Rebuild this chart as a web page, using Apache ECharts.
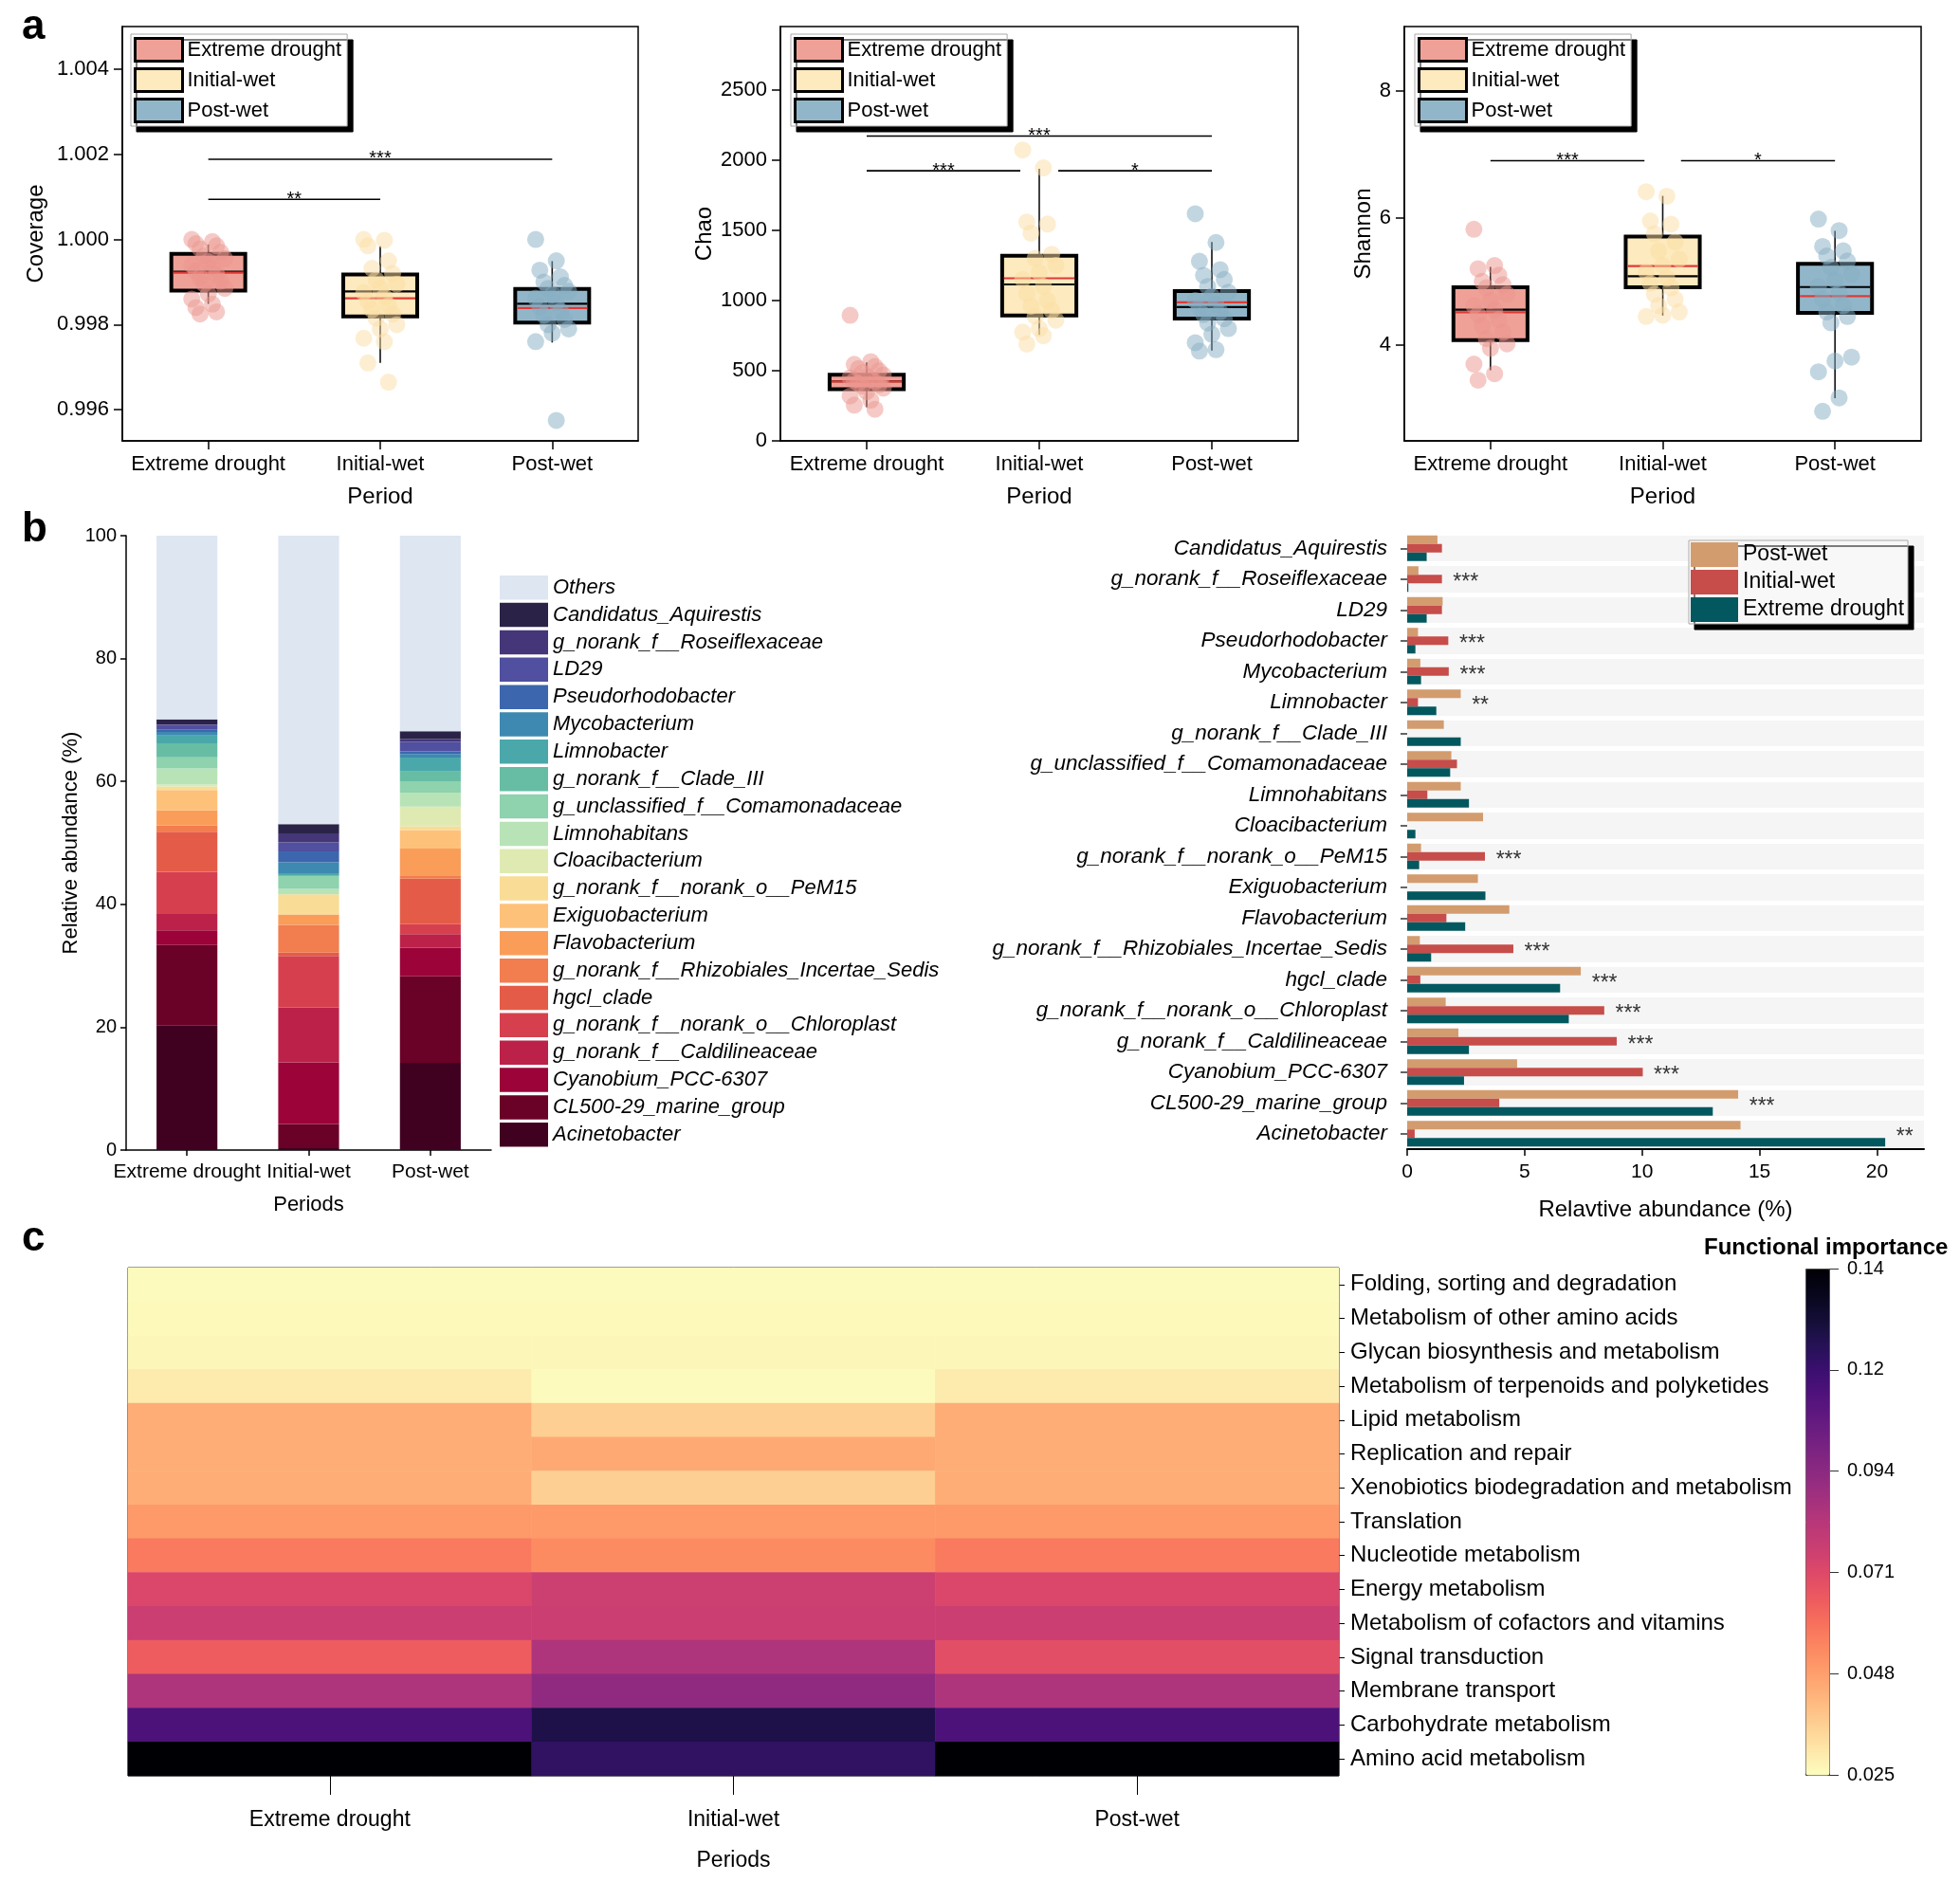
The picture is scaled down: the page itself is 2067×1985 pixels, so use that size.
<!DOCTYPE html>
<html>
<head>
<meta charset="utf-8">
<script src="https://cdn.jsdelivr.net/npm/echarts@6/dist/echarts.min.js"></script>
<style>html,body{margin:0;padding:0;background:#fff}#c{width:2067px;height:1985px}</style>
</head>
<body>
<div id="c"></div>
<script>
// ---------------- DATA ----------------
const periods = ['Extreme drought', 'Initial-wet', 'Post-wet'];

// Panel a: box statistics [min, Q1, median, Q3, max] and means, per period
const coverageStats = [[0.99849, 0.99880, 0.99924, 0.99966, 0.99988], [0.99710, 0.99819, 0.99878, 0.99918, 0.99984], [0.99758, 0.99805, 0.99849, 0.99884, 0.99949]];
const coverageMeans = [0.99922, 0.99862, 0.99839];
const coveragePoints = [
  [1.00000, 0.99995, 0.99990, 0.99985, 0.99978, 0.99970, 0.99962, 0.99955, 0.99948, 0.99940, 0.99932, 0.99925, 0.99918, 0.99910, 0.99902, 0.99895, 0.99885, 0.99872, 0.99860, 0.99848, 0.99840, 0.99830, 0.99825],
  [1.00000, 0.99998, 0.99985, 0.99950, 0.99932, 0.99920, 0.99905, 0.99895, 0.99885, 0.99875, 0.99865, 0.99855, 0.99845, 0.99835, 0.99825, 0.99815, 0.99800, 0.99790, 0.99768, 0.99760, 0.99710, 0.99665],
  [1.00000, 0.99950, 0.99928, 0.99912, 0.99900, 0.99892, 0.99885, 0.99878, 0.99870, 0.99862, 0.99852, 0.99842, 0.99832, 0.99822, 0.99812, 0.99800, 0.99790, 0.99780, 0.99760, 0.99575]
];
const coverageTicks = [0.996, 0.998, 1.000, 1.002, 1.004];
const coverageBrackets = [[0, 2, 1.001884, '***'], [0, 1, 1.000942, '**']];

const chaoStats = [[240, 369, 425, 472, 560], [755, 893, 1115, 1320, 1939], [643, 872, 953, 1068, 1418]];
const chaoMeans = [423, 1159, 988];
const chaoPoints = [
  [895, 565, 545, 530, 515, 500, 485, 470, 460, 450, 440, 430, 420, 410, 400, 390, 375, 350, 320, 290, 255, 225],
  [2073, 1946, 1560, 1545, 1480, 1330, 1300, 1250, 1200, 1150, 1100, 1050, 1000, 960, 930, 890, 860, 800, 775, 750, 690],
  [1619, 1414, 1280, 1220, 1180, 1150, 1100, 1060, 1030, 1000, 975, 950, 920, 900, 870, 840, 800, 760, 700, 650, 640]
];
const chaoTicks = [0, 500, 1000, 1500, 2000, 2500];
const chaoBrackets = [[0, 2, 2173, '***'], [0, 0.89, 1925, '***'], [1.11, 2, 1925, '*']];

const shannonStats = [[3.603, 4.077, 4.557, 4.907, 5.227], [4.464, 4.907, 5.082, 5.706, 6.345], [3.165, 4.505, 4.912, 5.278, 5.794]];
const shannonMeans = [4.515, 5.242, 4.768];
const shannonPoints = [
  [5.82, 5.25, 5.20, 5.10, 5.00, 4.95, 4.90, 4.80, 4.70, 4.62, 4.55, 4.48, 4.40, 4.30, 4.20, 4.10, 4.02, 3.95, 3.70, 3.55, 3.45],
  [6.41, 6.34, 5.95, 5.90, 5.75, 5.62, 5.48, 5.35, 5.25, 5.15, 5.05, 4.97, 4.90, 4.80, 4.72, 4.62, 4.52, 4.47, 4.45],
  [5.98, 5.80, 5.55, 5.48, 5.40, 5.32, 5.22, 5.12, 5.02, 4.92, 4.82, 4.72, 4.62, 4.52, 4.45, 4.35, 3.81, 3.75, 3.58, 3.17, 2.96]
];
const shannonTicks = [4, 6, 8];
const shannonBrackets = [[0, 0.894, 6.897, '***'], [1.106, 2, 6.897, '*']];

// Panel b: genera (top to bottom of the right chart) and mean relative abundance (%)
const genera = ['Candidatus_Aquirestis', 'g_norank_f__Roseiflexaceae', 'LD29', 'Pseudorhodobacter', 'Mycobacterium', 'Limnobacter', 'g_norank_f__Clade_III', 'g_unclassified_f__Comamonadaceae', 'Limnohabitans', 'Cloacibacterium', 'g_norank_f__norank_o__PeM15', 'Exiguobacterium', 'Flavobacterium', 'g_norank_f__Rhizobiales_Incertae_Sedis', 'hgcl_clade', 'g_norank_f__norank_o__Chloroplast', 'g_norank_f__Caldilineaceae', 'Cyanobium_PCC-6307', 'CL500-29_marine_group', 'Acinetobacter'];
const pwAbund = [1.29, 0.48, 1.51, 0.46, 0.56, 2.28, 1.56, 1.88, 2.28, 3.23, 0.59, 3.01, 4.35, 0.54, 7.39, 1.64, 2.18, 4.68, 14.09, 14.19];
const iwAbund = [1.48, 1.48, 1.48, 1.75, 1.77, 0.46, 0, 2.12, 0.86, 0, 3.31, 0, 1.67, 4.52, 0.56, 8.39, 8.92, 10.03, 3.92, 0.32];
const edAbund = [0.83, 0.05, 0.83, 0.35, 0.59, 1.24, 2.28, 1.83, 2.63, 0.35, 0.51, 3.33, 2.47, 1.02, 6.51, 6.88, 2.63, 2.42, 13.01, 20.35];
const othersAbund = [29.89, 46.96, 31.81]; // ED, IW, PW
const sigLabels = ['', '***', '', '***', '***', '**', '', '', '', '', '***', '', '', '***', '***', '***', '***', '***', '***', '**'];

// Panel c: functional categories (top to bottom) and importance per period [ED, IW, PW]
const functions = ['Folding, sorting and degradation', 'Metabolism of other amino acids', 'Glycan biosynthesis and metabolism', 'Metabolism of terpenoids and polyketides', 'Lipid metabolism', 'Replication and repair', 'Xenobiotics biodegradation and metabolism', 'Translation', 'Nucleotide metabolism', 'Energy metabolism', 'Metabolism of cofactors and vitamins', 'Signal transduction', 'Membrane transport', 'Carbohydrate metabolism', 'Amino acid metabolism'];
const heatValues = [
  [0.0255, 0.0255, 0.0255],
  [0.0260, 0.0260, 0.0260],
  [0.0265, 0.0265, 0.0265],
  [0.0296, 0.0255, 0.0296],
  [0.0446, 0.0365, 0.0446],
  [0.0446, 0.0457, 0.0446],
  [0.0446, 0.0365, 0.0446],
  [0.0492, 0.0492, 0.0492],
  [0.0572, 0.0532, 0.0572],
  [0.0722, 0.0762, 0.0722],
  [0.0768, 0.0768, 0.0768],
  [0.0647, 0.0848, 0.0693],
  [0.0848, 0.0929, 0.0848],
  [0.1124, 0.1250, 0.1124],
  [0.1400, 0.1199, 0.1400]
];
const cbTicks = [0.025, 0.048, 0.071, 0.094, 0.117, 0.14];
const cbTickLabels = ['0.025', '0.048', '0.071', '0.094', '0.12', '0.14'];

// ---------------- STYLE ----------------
const FONT = "'Liberation Sans', Arial, Helvetica, sans-serif";
const periodColors = ['#EFA198', '#FDEABF', '#92B6C9'];
const pointColors = ['#EC958D', '#FBDDA3', '#86AEC4'];
const generaColors = ['#2A2347', '#45367A', '#504FA0', '#3C67AE', '#3D89B1', '#4BA8AA', '#66BDA4', '#8ED2AE', '#B8E3B6', '#DFEAB2', '#F9DC96', '#FEC17A', '#FA9D59', '#F27D4E', '#E45C47', '#D6404E', '#BC2149', '#9B0339', '#6A0126', '#400020'];
const othersColor = '#DEE6F2';
const diffColors = { 'Post-wet': '#D39C6E', 'Initial-wet': '#C64D4A', 'Extreme drought': '#03585F' };
const magmaRev = ['#FCFDBF', '#FDE7A9', '#FECF92', '#FEB77E', '#FE9F6D', '#FC8961', '#F7705C', '#ED5A5F', '#DE4968', '#CA3E72', '#B73779', '#A1307E', '#8C2981', '#782281', '#641A80', '#51127C', '#3B0F70', '#251255', '#140E36', '#07061C', '#000004'];

const alphaPanels = [
  { name: 'Coverage', stats: coverageStats, means: coverageMeans, points: coveragePoints, ticks: coverageTicks, brackets: coverageBrackets, min: 0.99527, max: 1.005, fmt: v => v.toFixed(3), grid: { left: 129, top: 28, width: 544, height: 437 }, nameGap: 79, legendLeft: 138 },
  { name: 'Chao', stats: chaoStats, means: chaoMeans, points: chaoPoints, ticks: chaoTicks, brackets: chaoBrackets, min: 0, max: 2953, fmt: v => String(Math.round(v)), grid: { left: 823, top: 28, width: 546, height: 437 }, nameGap: 68, legendLeft: 834 },
  { name: 'Shannon', stats: shannonStats, means: shannonMeans, points: shannonPoints, ticks: shannonTicks, brackets: shannonBrackets, min: 2.495, max: 9.005, fmt: v => String(Math.round(v)), grid: { left: 1481, top: 28, width: 545, height: 437 }, nameGap: 31, legendLeft: 1492 }
];

const jitter = i => (((i * 5) % 9) - 4) * 0.024;

function boxRender(params, api) {
  const i = api.value(0);
  const w = api.size([1, 0])[0] * 0.43;
  const pMin = api.coord([i, api.value(1)]);
  const pQ1 = api.coord([i, api.value(2)]);
  const pMed = api.coord([i, api.value(3)]);
  const pQ3 = api.coord([i, api.value(4)]);
  const pMax = api.coord([i, api.value(5)]);
  const pMean = api.coord([i, api.value(6)]);
  const cx = pQ1[0];
  return {
    type: 'group', children: [
      { type: 'line', shape: { x1: cx, y1: pMin[1], x2: cx, y2: pMax[1] }, style: { stroke: '#111', lineWidth: 1.6 } },
      { type: 'rect', shape: { x: cx - w / 2, y: pQ3[1], width: w, height: pQ1[1] - pQ3[1] }, style: { fill: periodColors[i], stroke: '#000', lineWidth: 4 } },
      { type: 'line', shape: { x1: cx - w / 2 + 2, y1: pMed[1], x2: cx + w / 2 - 2, y2: pMed[1] }, style: { stroke: '#000', lineWidth: 2.2 } },
      { type: 'line', shape: { x1: cx - w / 2 + 2, y1: pMean[1], x2: cx + w / 2 - 2, y2: pMean[1] }, style: { stroke: '#E03A35', lineWidth: 2.2 } }
    ]
  };
}

function makeBracketRender(brackets) {
  return function (params, api) {
    const p1 = api.coord([api.value(0), api.value(2)]);
    const p2 = api.coord([api.value(1), api.value(2)]);
    return {
      type: 'group', children: [
        { type: 'line', shape: { x1: p1[0], y1: p1[1], x2: p2[0], y2: p2[1] }, style: { stroke: '#000', lineWidth: 1.6 } },
        { type: 'text', x: (p1[0] + p2[0]) / 2, y: p1[1], style: { text: brackets[params.dataIndex][3], fontSize: 20, fontFamily: FONT, fill: '#000', align: 'center', verticalAlign: 'middle' } }
      ]
    };
  };
}

// ---------------- OPTION ----------------
const grids = [], xAxes = [], yAxes = [], series = [], legends = [];

alphaPanels.forEach((p, k) => {
  grids.push(Object.assign({ show: true, borderColor: '#000', borderWidth: 1.5, backgroundColor: 'transparent', outerBoundsMode: 'none' }, p.grid));
  xAxes.push({
    type: 'value', gridIndex: k, min: -0.5, max: 2.5,
    name: 'Period', nameLocation: 'middle', nameGap: 47, nameTextStyle: { fontSize: 24, color: '#000', fontFamily: FONT },
    axisLine: { show: true, onZero: false, lineStyle: { color: '#000', width: 1.5 } },
    axisTick: { show: true, length: 9, customValues: [0, 1, 2], lineStyle: { color: '#000', width: 1.5 } },
    axisLabel: { customValues: [0, 1, 2], formatter: v => periods[Math.round(v)], fontSize: 22, color: '#000', margin: 14, fontFamily: FONT },
    splitLine: { show: false }
  });
  yAxes.push({
    type: 'value', gridIndex: k, min: p.min, max: p.max,
    name: p.name, nameLocation: 'middle', nameGap: p.nameGap, nameRotate: 90, nameTextStyle: { fontSize: 24, color: '#000', fontFamily: FONT },
    axisLine: { show: true, onZero: false, lineStyle: { color: '#000', width: 1.5 } },
    axisTick: { show: true, length: 9, customValues: p.ticks, lineStyle: { color: '#000', width: 1.5 } },
    axisLabel: { customValues: p.ticks, formatter: p.fmt, fontSize: 22, color: '#000', margin: 14, fontFamily: FONT },
    splitLine: { show: false }
  });
  series.push({
    type: 'custom', xAxisIndex: k, yAxisIndex: k, z: 2, silent: true,
    data: p.stats.map((s, i) => [i, s[0], s[1], s[2], s[3], s[4], p.means[i]]),
    encode: { x: 0, y: [1, 2, 3, 4, 5, 6] },
    renderItem: boxRender
  });
  p.points.forEach((arr, g) => {
    series.push({
      type: 'scatter', name: periods[g], xAxisIndex: k, yAxisIndex: k, z: 3, silent: true,
      symbolSize: 18, itemStyle: { color: pointColors[g], opacity: 0.5 },
      data: arr.map((v, i) => [g + jitter(i), v])
    });
  });
  series.push({
    type: 'custom', xAxisIndex: k, yAxisIndex: k, z: 4, silent: true,
    data: p.brackets.map(b => [b[0], b[1], b[2]]),
    encode: { x: [0, 1], y: 2 },
    renderItem: makeBracketRender(p.brackets)
  });
  legends.push({
    orient: 'vertical', left: p.legendLeft, top: 36, padding: [3, 6, 3, 3],
    itemWidth: 50, itemHeight: 24, itemGap: 5, icon: 'rect', selectedMode: false,
    backgroundColor: '#fff', borderColor: '#aaa', borderWidth: 1,
    shadowColor: '#000', shadowBlur: 0, shadowOffsetX: 6, shadowOffsetY: 6,
    textStyle: { fontSize: 22, color: '#000', lineHeight: 24, fontFamily: FONT },
    data: periods.map((n, i) => ({ name: n, itemStyle: { color: periodColors[i], borderColor: '#000', borderWidth: 3, opacity: 1 } }))
  });
});

// Panel b left: stacked bars (grid 3)
grids.push({ left: 133, top: 565, width: 385, height: 648, outerBoundsMode: 'none' });
xAxes.push({
  type: 'category', gridIndex: 3, data: periods,
  name: 'Periods', nameLocation: 'middle', nameGap: 47, nameTextStyle: { fontSize: 22, color: '#000', fontFamily: FONT },
  axisLine: { show: true, lineStyle: { color: '#000', width: 1.5 } },
  axisTick: { show: true, alignWithLabel: true, length: 6, lineStyle: { color: '#000', width: 1.5 } },
  axisLabel: { interval: 0, fontSize: 21, color: '#000', margin: 13, fontFamily: FONT }
});
yAxes.push({
  type: 'value', gridIndex: 3, min: 0, max: 100, interval: 20,
  name: 'Relative abundance (%)', nameLocation: 'middle', nameGap: 47, nameRotate: 90, nameTextStyle: { fontSize: 22, color: '#000', fontFamily: FONT },
  axisLine: { show: true, lineStyle: { color: '#000', width: 1.5 } },
  axisTick: { show: true, length: 6, lineStyle: { color: '#000', width: 1.5 } },
  axisLabel: { fontSize: 20, color: '#000', margin: 10, fontFamily: FONT },
  splitLine: { show: false }
});
for (let i = genera.length - 1; i >= 0; i--) {
  series.push({
    type: 'bar', name: genera[i], stack: 'total', xAxisIndex: 3, yAxisIndex: 3, barWidth: '50%', silent: true,
    itemStyle: { color: generaColors[i] },
    data: [edAbund[i], iwAbund[i], pwAbund[i]]
  });
}
series.push({
  type: 'bar', name: 'Others', stack: 'total', xAxisIndex: 3, yAxisIndex: 3, barWidth: '50%', silent: true,
  itemStyle: { color: othersColor }, data: othersAbund
});
legends.push({
  orient: 'vertical', left: 527, top: 607, padding: 0,
  itemWidth: 51, itemHeight: 25.5, itemGap: 3.35, icon: 'rect', selectedMode: false,
  textStyle: { fontSize: 22, fontStyle: 'italic', color: '#000', lineHeight: 25, fontFamily: FONT },
  data: ['Others'].concat(genera).map(n => ({ name: n, itemStyle: { borderWidth: 0 } }))
});

// Panel b right: grouped horizontal bars (grid 4)
grids.push({ left: 1484, top: 562, width: 545, height: 650, outerBoundsMode: 'none' });
xAxes.push({
  type: 'value', gridIndex: 4, min: 0, max: 22,
  name: 'Relavtive abundance (%)', nameLocation: 'middle', nameGap: 52, nameTextStyle: { fontSize: 24, color: '#000', fontFamily: FONT },
  axisLine: { show: true, lineStyle: { color: '#000', width: 2 } },
  axisTick: { show: true, length: 7, customValues: [0, 5, 10, 15, 20], lineStyle: { color: '#000', width: 1.5 } },
  axisLabel: { customValues: [0, 5, 10, 15, 20], fontSize: 21, color: '#000', margin: 14, fontFamily: FONT },
  splitLine: { show: false }
});
yAxes.push({
  type: 'category', gridIndex: 4, data: genera, inverse: true,
  axisLine: { show: false },
  axisTick: { show: true, alignWithLabel: true, length: 7, lineStyle: { color: '#333', width: 1.5 } },
  axisLabel: { interval: 0, fontSize: 22.5, fontStyle: 'italic', color: '#000', margin: 21, fontFamily: FONT },
  splitArea: { show: true, areaStyle: { color: ['#F5F5F5', '#F5F5F5'] } },
  splitLine: { show: true, lineStyle: { color: '#fff', width: 5 } }
});
[['Post-wet', pwAbund], ['Initial-wet', iwAbund], ['Extreme drought', edAbund]].forEach(([n, arr]) => {
  series.push({
    type: 'bar', name: n, xAxisIndex: 4, yAxisIndex: 4, barWidth: 9, barGap: '0%', silent: true,
    itemStyle: { color: diffColors[n] }, data: arr
  });
});
series.push({
  type: 'scatter', xAxisIndex: 4, yAxisIndex: 4, z: 5, silent: true, symbolSize: 1,
  itemStyle: { color: 'rgba(0,0,0,0)' },
  label: { show: true, position: 'right', distance: 0, offset: [0, 4], fontSize: 23, color: '#000', fontFamily: FONT },
  data: genera.map((g, i) => sigLabels[i] ? { value: [Math.max(pwAbund[i], iwAbund[i], edAbund[i]) + 0.45, i], label: { formatter: sigLabels[i] } } : null).filter(d => d)
});
legends.push({
  orient: 'vertical', left: 1781, top: 570, padding: [2, 4, 2, 2],
  itemWidth: 50, itemHeight: 26, itemGap: 3, icon: 'rect', selectedMode: false,
  backgroundColor: '#F8F8F8', borderColor: '#aaa', borderWidth: 1,
  shadowColor: '#000', shadowBlur: 0, shadowOffsetX: 6, shadowOffsetY: 6,
  textStyle: { fontSize: 23, color: '#000', lineHeight: 26, fontFamily: FONT },
  data: ['Post-wet', 'Initial-wet', 'Extreme drought'].map(n => ({ name: n, itemStyle: { color: diffColors[n], borderWidth: 0, opacity: 1 } }))
});

// Panel c: heatmap (grid 5)
grids.push({ left: 135, top: 1337, width: 1277, height: 536, show: true, borderColor: '#000', borderWidth: 1, backgroundColor: 'transparent', outerBoundsMode: 'none' });
xAxes.push({
  type: 'category', gridIndex: 5, data: periods,
  name: 'Periods', nameLocation: 'middle', nameGap: 78, nameTextStyle: { fontSize: 23, color: '#000', fontFamily: FONT },
  axisLine: { show: false },
  axisTick: { show: true, alignWithLabel: true, length: 20, lineStyle: { color: '#000', width: 1 } },
  axisLabel: { interval: 0, fontSize: 23, color: '#000', margin: 35, fontFamily: FONT },
  splitLine: { show: false }
});
yAxes.push({
  type: 'category', gridIndex: 5, data: functions, inverse: true, position: 'right',
  axisLine: { show: false },
  axisTick: { show: true, alignWithLabel: true, length: 6, lineStyle: { color: '#000', width: 1 } },
  axisLabel: { interval: 0, fontSize: 24, color: '#000', margin: 12, fontFamily: FONT },
  splitLine: { show: false }
});
const heatData = [];
heatValues.forEach((row, r) => row.forEach((v, c) => heatData.push([c, r, v])));
const heatIndex = series.length;
series.push({ type: 'heatmap', xAxisIndex: 5, yAxisIndex: 5, data: heatData, silent: true, itemStyle: { borderWidth: 0 } });

// Colour bar tick axis (grid 6)
grids.push({ left: 1904, top: 1338, width: 25, height: 534, outerBoundsMode: 'none' });
xAxes.push({ type: 'value', gridIndex: 6, show: false, min: 0, max: 1 });
yAxes.push({
  type: 'value', gridIndex: 6, position: 'right', min: 0.025, max: 0.14,
  axisLine: { show: false, onZero: false },
  axisTick: { show: true, length: 10, customValues: cbTicks, lineStyle: { color: '#333', width: 1 } },
  axisLabel: {
    customValues: cbTicks, fontSize: 20, color: '#000', margin: 19, fontFamily: FONT,
    formatter: v => { let best = 0; cbTicks.forEach((t, i) => { if (Math.abs(t - v) < Math.abs(cbTicks[best] - v)) best = i; }); return cbTickLabels[best]; }
  },
  splitLine: { show: false }
});

const option = {
  animation: false,
  backgroundColor: '#fff',
  textStyle: { fontFamily: FONT },
  title: [
    { text: 'a', left: 18, top: 2, textStyle: { fontSize: 44, fontWeight: 'bold', color: '#000', fontFamily: FONT } },
    { text: 'b', left: 18, top: 532, textStyle: { fontSize: 44, fontWeight: 'bold', color: '#000', fontFamily: FONT } },
    { text: 'c', left: 18, top: 1280, textStyle: { fontSize: 44, fontWeight: 'bold', color: '#000', fontFamily: FONT } },
    { text: 'Functional importance', left: 1792, top: 1299, textStyle: { fontSize: 24, fontWeight: 'bold', color: '#000', fontFamily: FONT } }
  ],
  grid: grids,
  xAxis: xAxes,
  yAxis: yAxes,
  legend: legends,
  visualMap: [{
    type: 'continuous', min: 0.025, max: 0.14, seriesIndex: [heatIndex], calculable: false, hoverLink: false,
    orient: 'vertical', left: 1904, top: 1338, itemWidth: 25, itemHeight: 534, padding: 0,
    borderColor: '#444', borderWidth: 1,
    inRange: { color: magmaRev }
  }],
  series: series
};

const chart = echarts.init(document.getElementById('c'), null, { renderer: 'canvas' });
chart.setOption(option);
</script>
</body>
</html>
